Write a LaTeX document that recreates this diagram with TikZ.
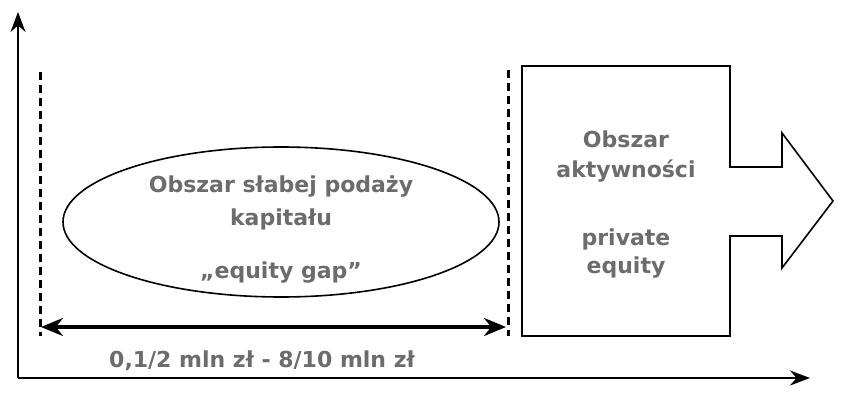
\documentclass[tikz,border=0pt]{standalone}
\usepackage{fontspec}
\setmainfont{DejaVu Sans}
\usetikzlibrary{shapes.geometric,arrows.meta}
\definecolor{txtgray}{RGB}{108,108,108}

\begin{document}
\begin{tikzpicture}[x=1pt,y=-1pt,
  caption/.style={text=txtgray,font=\bfseries\fontsize{22}{26}\selectfont,inner sep=0pt,anchor=base},
  guide/.style={line width=3pt,dash pattern=on 8pt off 5pt},
  axis/.style={line width=1.8pt,-{Stealth[length=20pt,width=15pt]}}]
\useasboundingbox (0,0) rectangle (854,409);

%draws the axes
\coordinate (origin) at (18,378);
\coordinate (ytop) at (18,12);
\coordinate (xend) at (810,378);
\draw[axis] (origin) -- (ytop);
\draw[axis] (origin) -- (xend);

%draws the dashed borders of the gap
\coordinate (lguidetop) at (40,72);
\coordinate (lguidebot) at (40,336);
\coordinate (rguidetop) at (508,70);
\coordinate (rguidebot) at (508,336);
\draw[guide] (lguidetop) -- (lguidebot);
\draw[guide] (rguidetop) -- (rguidebot);

%range arrow and its label
\coordinate (rangeleft) at (41,327);
\coordinate (rangeright) at (506,327);
\draw[line width=3.4pt,{Stealth[length=22pt,width=18pt]}-{Stealth[length=22pt,width=18pt]}] (rangeleft) -- (rangeright);
\node[caption] (range) at (262,367) {0,1/2 mln zł - 8/10 mln zł};

%ellipse with the gap
\node[draw,line width=1.6pt,ellipse,minimum width=436pt,minimum height=150pt] (gap) at (281,222) {};
\node[caption] (gap1) at (281,192) {Obszar słabej podaży};
\node[caption] (gap2) at (281,225) {kapitału};
\node[caption] (gap3) at (281,278) {„equity gap”};

%box with the arrow
\draw[line width=1.6pt] (522,66) -- (730,66) -- (730,167) -- (782,167) -- (782,133) -- (833,201)
  -- (782,268) -- (782,236) -- (730,236) -- (730,336) -- (522,336) -- cycle;
\node[caption] (pe1) at (626,147) {Obszar};
\node[caption] (pe2) at (626,178) {aktywności};
\node[caption] (pe3) at (626,245) {private};
\node[caption] (pe4) at (626,273) {equity};

\end{tikzpicture}
\end{document}
